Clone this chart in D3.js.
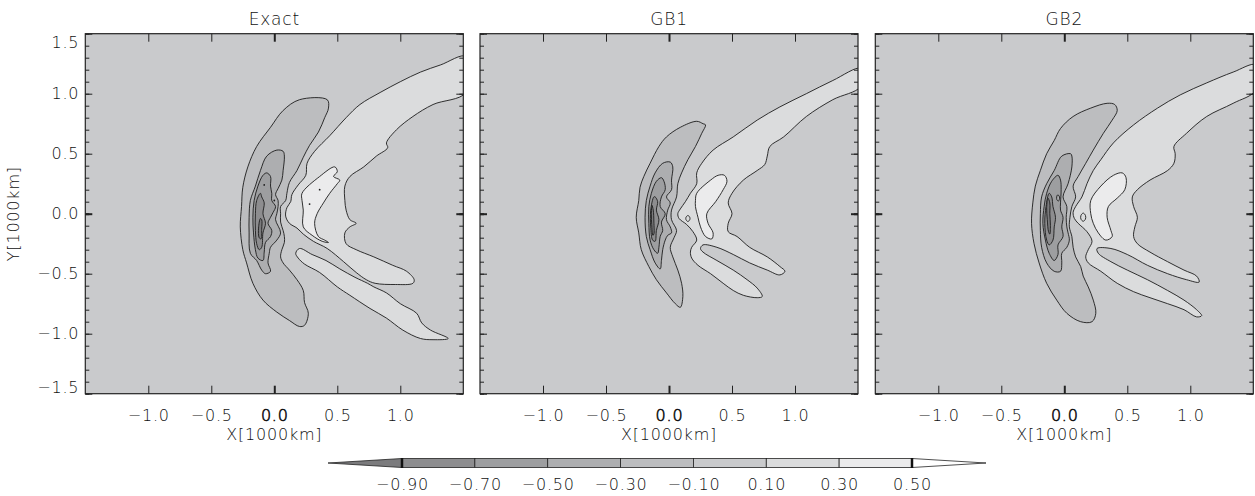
<!DOCTYPE html>
<html>
<head>
<meta charset="utf-8">
<script src="https://cdn.jsdelivr.net/npm/d3@7"></script>
<style>
body { margin: 0; background: #fff; }
text { font-family: "DejaVu Sans", sans-serif; font-weight: 200; fill: #111; letter-spacing: 0.8px; }
</style>
</head>
<body>
<svg id="chart" width="1255" height="496"></svg>
<script>
// contour levels and the tick values
var cbLevels = [-0.9, -0.7, -0.5, -0.3, -0.1, 0.1, 0.3, 0.5];
var xTicks = [-1.0, -0.5, 0.0, 0.5, 1.0];
var yTicks = [-1.5, -1.0, -0.5, 0.0, 0.5, 1.0, 1.5];
var panelTitles = ["Exact", "GB1", "GB2"];

// contour outlines, [x, y] in 1000 km
var exactNeg1 = [[0.42,0.95],[0.20,0.95],[0.07,0.86],[-0.03,0.72],[-0.14,0.56],[-0.21,0.39],[-0.25,0.22],[-0.26,0.06],[-0.27,-0.11],[-0.25,-0.30],[-0.22,-0.41],[-0.17,-0.58],[-0.09,-0.72],[0.02,-0.82],[0.12,-0.89],[0.20,-0.94],[0.24,-0.93],[0.27,-0.83],[0.24,-0.74],[0.23,-0.64],[0.18,-0.55],[0.12,-0.47],[0.07,-0.41],[0.05,-0.36],[0.06,-0.30],[0.08,-0.24],[0.08,-0.19],[0.07,-0.14],[0.05,-0.07],[0.05,0.0],[0.05,0.06],[0.09,0.11],[0.10,0.17],[0.12,0.26],[0.18,0.36],[0.23,0.47],[0.28,0.57],[0.35,0.68],[0.40,0.80],[0.43,0.88]];
var exactNeg3 = [[0.07,0.52],[0.02,0.53],[-0.06,0.48],[-0.11,0.36],[-0.15,0.23],[-0.19,0.11],[-0.20,-0.03],[-0.20,-0.16],[-0.19,-0.33],[-0.14,-0.39],[-0.10,-0.47],[-0.07,-0.50],[-0.03,-0.48],[-0.05,-0.41],[-0.04,-0.33],[-0.03,-0.28],[0.02,-0.22],[0.05,-0.16],[0.01,-0.05],[0.02,0.0],[0.03,0.06],[0.03,0.11],[0.01,0.16],[0.03,0.21],[0.06,0.28],[0.07,0.36],[0.08,0.48]];
var exactNeg5 = [[-0.06,0.34],[-0.09,0.32],[-0.13,0.23],[-0.16,0.11],[-0.17,-0.03],[-0.165,-0.16],[-0.15,-0.30],[-0.13,-0.37],[-0.09,-0.39],[-0.08,-0.32],[-0.07,-0.24],[-0.03,-0.19],[-0.02,-0.14],[-0.05,-0.08],[-0.03,-0.03],[-0.01,0.01],[0.01,0.06],[-0.02,0.11],[-0.02,0.17],[-0.03,0.23],[-0.03,0.31]];
var exactNeg7 = [[-0.11,0.17],[-0.14,0.11],[-0.15,0.0],[-0.15,-0.14],[-0.14,-0.25],[-0.12,-0.30],[-0.10,-0.28],[-0.09,-0.16],[-0.07,-0.08],[-0.09,0.0],[-0.08,0.09],[-0.10,0.14]];
var exactNeg9 = [[-0.11,-0.04],[-0.125,-0.12],[-0.12,-0.20],[-0.105,-0.21],[-0.10,-0.13],[-0.10,-0.05]];
var exactPos1 = [[1.52,1.31],[1.32,1.24],[1.16,1.18],[1.00,1.10],[0.84,1.01],[0.68,0.91],[0.57,0.80],[0.44,0.65],[0.32,0.52],[0.26,0.42],[0.25,0.32],[0.19,0.24],[0.14,0.16],[0.13,0.10],[0.10,0.05],[0.09,-0.02],[0.12,-0.08],[0.18,-0.12],[0.23,-0.17],[0.31,-0.23],[0.42,-0.29],[0.55,-0.40],[0.65,-0.49],[0.73,-0.55],[0.80,-0.58],[0.96,-0.59],[1.10,-0.58],[1.11,-0.55],[1.05,-0.48],[0.94,-0.43],[0.79,-0.36],[0.65,-0.30],[0.57,-0.25],[0.56,-0.16],[0.60,-0.11],[0.65,-0.08],[0.60,-0.05],[0.57,0.03],[0.56,0.11],[0.56,0.23],[0.60,0.31],[0.71,0.39],[0.81,0.48],[0.90,0.55],[0.89,0.59],[0.97,0.70],[1.10,0.81],[1.26,0.91],[1.52,1.01]];
var exactArm = [[0.17,-0.33],[0.20,-0.29],[0.30,-0.34],[0.41,-0.39],[0.52,-0.46],[0.64,-0.53],[0.74,-0.58],[0.79,-0.61],[0.89,-0.66],[1.00,-0.75],[1.13,-0.83],[1.17,-0.91],[1.24,-0.97],[1.38,-1.04],[1.26,-1.05],[1.16,-1.04],[1.02,-0.97],[0.89,-0.87],[0.76,-0.79],[0.60,-0.68],[0.50,-0.61],[0.36,-0.49],[0.24,-0.42],[0.19,-0.37]];
var exactPos3 = [[0.22,0.17],[0.36,0.31],[0.48,0.39],[0.50,0.35],[0.47,0.31],[0.52,0.28],[0.50,0.25],[0.44,0.17],[0.39,0.09],[0.34,0.0],[0.32,-0.08],[0.35,-0.19],[0.40,-0.22],[0.43,-0.24],[0.38,-0.23],[0.30,-0.18],[0.23,-0.11],[0.23,0.03],[0.22,0.11]];
var exactSpots = [[0.36,0.20],[0.28,0.08],[-0.08,0.24],[0.0,0.11]];

var gb1Neg1 = [[0.27,0.75],[0.22,0.77],[0.09,0.72],[-0.02,0.64],[-0.08,0.56],[-0.15,0.42],[-0.20,0.31],[-0.23,0.22],[-0.24,0.11],[-0.26,-0.03],[-0.24,-0.16],[-0.22,-0.30],[-0.16,-0.44],[-0.10,-0.55],[-0.02,-0.66],[0.05,-0.75],[0.09,-0.78],[0.11,-0.69],[0.10,-0.58],[0.07,-0.47],[0.03,-0.36],[0.01,-0.28],[0.04,-0.20],[0.06,-0.14],[0.02,-0.05],[0.02,0.03],[0.06,0.14],[0.07,0.25],[0.10,0.34],[0.15,0.45],[0.21,0.56],[0.26,0.67],[0.29,0.74]];
var gb1Neg3 = [[0.01,0.43],[-0.05,0.42],[-0.11,0.34],[-0.15,0.23],[-0.18,0.11],[-0.19,-0.03],[-0.18,-0.19],[-0.15,-0.30],[-0.11,-0.41],[-0.07,-0.46],[-0.06,-0.39],[-0.05,-0.30],[-0.03,-0.22],[-0.01,-0.18],[0.02,-0.16],[0.01,-0.11],[-0.02,-0.05],[-0.01,0.03],[0.01,0.09],[-0.02,0.14],[0.02,0.20],[0.02,0.28],[0.03,0.39]];
var gb1Neg5 = [[-0.06,0.30],[-0.10,0.27],[-0.14,0.17],[-0.16,0.06],[-0.16,-0.08],[-0.15,-0.22],[-0.12,-0.30],[-0.09,-0.33],[-0.08,-0.28],[-0.07,-0.19],[-0.05,-0.14],[-0.06,-0.07],[-0.03,0.0],[-0.07,0.06],[-0.06,0.14],[-0.03,0.20],[-0.04,0.27]];
var gb1Neg7 = [[-0.12,0.14],[-0.145,0.03],[-0.145,-0.11],[-0.13,-0.22],[-0.11,-0.23],[-0.10,-0.14],[-0.08,-0.05],[-0.10,0.03],[-0.09,0.10],[-0.11,0.14]];
var gb1Neg9 = [[-0.135,0.07],[-0.14,-0.01],[-0.137,-0.09],[-0.128,-0.18],[-0.12,-0.17],[-0.12,-0.07],[-0.125,0.03]];
var gb1Pos1 = [[1.52,1.21],[1.30,1.11],[1.09,1.00],[0.88,0.89],[0.70,0.78],[0.51,0.64],[0.35,0.53],[0.26,0.42],[0.22,0.34],[0.22,0.25],[0.17,0.17],[0.13,0.10],[0.09,0.04],[0.07,0.0],[0.08,-0.04],[0.14,-0.09],[0.19,-0.15],[0.22,-0.22],[0.18,-0.28],[0.17,-0.32],[0.18,-0.37],[0.23,-0.43],[0.33,-0.50],[0.43,-0.58],[0.51,-0.64],[0.59,-0.68],[0.70,-0.70],[0.74,-0.69],[0.70,-0.62],[0.62,-0.55],[0.51,-0.47],[0.38,-0.39],[0.27,-0.32],[0.25,-0.29],[0.27,-0.26],[0.38,-0.28],[0.51,-0.34],[0.64,-0.41],[0.78,-0.47],[0.88,-0.51],[0.92,-0.48],[0.88,-0.44],[0.78,-0.36],[0.64,-0.28],[0.54,-0.19],[0.47,-0.15],[0.47,-0.08],[0.50,0.0],[0.47,0.09],[0.50,0.17],[0.59,0.28],[0.70,0.36],[0.76,0.41],[0.78,0.48],[0.80,0.56],[0.91,0.64],[1.09,0.81],[1.30,0.95],[1.52,1.06]];
var gb1Pos3 = [[0.22,0.17],[0.33,0.28],[0.39,0.32],[0.44,0.32],[0.46,0.27],[0.43,0.20],[0.37,0.10],[0.30,0.0],[0.31,-0.08],[0.35,-0.16],[0.34,-0.21],[0.29,-0.19],[0.25,-0.11],[0.23,-0.03],[0.21,0.06],[0.21,0.11]];
var gb1Loop = [[0.15,-0.015],[0.165,-0.03],[0.165,-0.05],[0.15,-0.065],[0.135,-0.05],[0.135,-0.03]];

var gb2Neg1 = [[0.40,0.91],[0.34,0.92],[0.21,0.88],[0.07,0.81],[-0.03,0.71],[-0.08,0.61],[-0.14,0.50],[-0.19,0.36],[-0.23,0.23],[-0.25,0.09],[-0.26,-0.08],[-0.24,-0.25],[-0.20,-0.41],[-0.14,-0.58],[-0.06,-0.72],[0.02,-0.83],[0.13,-0.90],[0.22,-0.90],[0.25,-0.83],[0.23,-0.72],[0.19,-0.61],[0.15,-0.52],[0.13,-0.44],[0.09,-0.36],[0.07,-0.28],[0.06,-0.19],[0.04,-0.11],[0.045,-0.03],[0.06,0.06],[0.09,0.14],[0.07,0.23],[0.11,0.31],[0.17,0.42],[0.23,0.53],[0.31,0.67],[0.38,0.78],[0.42,0.86]];
var gb2Neg3 = [[0.05,0.50],[-0.02,0.48],[-0.08,0.36],[-0.14,0.25],[-0.18,0.14],[-0.19,0.0],[-0.19,-0.14],[-0.18,-0.28],[-0.14,-0.41],[-0.08,-0.48],[-0.03,-0.48],[-0.02,-0.41],[-0.02,-0.33],[0.02,-0.28],[0.04,-0.22],[0.03,-0.16],[0.02,-0.11],[0.015,-0.03],[0.02,0.06],[-0.01,0.14],[0.03,0.25],[0.06,0.39],[0.06,0.48]];
var gb2Neg5 = [[-0.05,0.32],[-0.10,0.27],[-0.14,0.17],[-0.16,0.06],[-0.17,-0.08],[-0.15,-0.22],[-0.12,-0.33],[-0.08,-0.39],[-0.05,-0.34],[-0.05,-0.26],[-0.01,-0.19],[-0.02,-0.11],[-0.01,-0.03],[-0.03,0.03],[-0.03,0.09],[-0.025,0.20],[-0.03,0.28]];
var gb2Neg7 = [[-0.12,0.17],[-0.145,0.06],[-0.155,-0.08],[-0.14,-0.22],[-0.12,-0.26],[-0.09,-0.22],[-0.08,-0.11],[-0.07,-0.03],[-0.09,0.06],[-0.10,0.14]];
var gb2Neg9 = [[-0.13,0.13],[-0.14,0.05],[-0.135,-0.05],[-0.125,-0.15],[-0.115,-0.17],[-0.11,-0.10],[-0.115,0.0],[-0.115,0.09]];
var gb2Hole = [[-0.055,0.155],[-0.042,0.15],[-0.038,0.125],[-0.047,0.105],[-0.06,0.12]];
var gb2Pos1 = [[1.52,1.24],[1.34,1.18],[1.13,1.09],[0.92,0.99],[0.74,0.88],[0.55,0.74],[0.39,0.59],[0.29,0.45],[0.23,0.36],[0.18,0.25],[0.14,0.14],[0.09,0.06],[0.07,0.01],[0.08,-0.04],[0.11,-0.08],[0.18,-0.15],[0.22,-0.23],[0.19,-0.30],[0.17,-0.36],[0.19,-0.41],[0.29,-0.48],[0.42,-0.58],[0.55,-0.65],[0.68,-0.70],[0.82,-0.75],[0.95,-0.80],[1.05,-0.86],[1.09,-0.85],[1.05,-0.80],[0.95,-0.72],[0.82,-0.64],[0.66,-0.55],[0.50,-0.47],[0.37,-0.40],[0.27,-0.33],[0.26,-0.29],[0.37,-0.29],[0.50,-0.34],[0.66,-0.43],[0.82,-0.50],[0.97,-0.55],[1.07,-0.57],[1.05,-0.52],[0.95,-0.47],[0.82,-0.40],[0.68,-0.32],[0.58,-0.25],[0.55,-0.19],[0.56,-0.11],[0.58,-0.03],[0.55,0.06],[0.54,0.14],[0.58,0.20],[0.68,0.28],[0.82,0.36],[0.87,0.42],[0.88,0.50],[0.87,0.56],[0.97,0.67],[1.13,0.81],[1.34,0.92],[1.52,1.03]];
var gb2Pos3 = [[0.21,0.11],[0.29,0.23],[0.39,0.32],[0.46,0.34],[0.49,0.30],[0.48,0.20],[0.42,0.13],[0.35,0.06],[0.34,-0.03],[0.37,-0.14],[0.38,-0.19],[0.33,-0.22],[0.27,-0.16],[0.23,-0.08],[0.21,0.0]];
var gb2Loop = [[0.15,0.005],[0.168,-0.015],[0.168,-0.045],[0.15,-0.063],[0.132,-0.045],[0.132,-0.015]];

// which colour band (0 = below -0.9 ... 8 = above 0.5) each outline encloses
var panelLayers = [
    [{ bin: 4, pts: exactNeg1 }, { bin: 3, pts: exactNeg3 }, { bin: 2, pts: exactNeg5 }, { bin: 1, pts: exactNeg7 }, { bin: 0, pts: exactNeg9 },
     { bin: 6, pts: exactPos1 }, { bin: 6, pts: exactArm }, { bin: 7, pts: exactPos3 }],
    [{ bin: 4, pts: gb1Neg1 }, { bin: 3, pts: gb1Neg3 }, { bin: 2, pts: gb1Neg5 }, { bin: 1, pts: gb1Neg7 }, { bin: 0, pts: gb1Neg9 },
     { bin: 6, pts: gb1Pos1 }, { bin: 7, pts: gb1Pos3 }, { bin: 6, pts: gb1Loop }],
    [{ bin: 4, pts: gb2Neg1 }, { bin: 3, pts: gb2Neg3 }, { bin: 2, pts: gb2Neg5 }, { bin: 3, pts: gb2Hole }, { bin: 1, pts: gb2Neg7 }, { bin: 0, pts: gb2Neg9 },
     { bin: 6, pts: gb2Pos1 }, { bin: 7, pts: gb2Pos3 }, { bin: 6, pts: gb2Loop }]
];
var panelSpots = [exactSpots, [], []];

var binColors = ["#7b7b7d", "#8d8d8f", "#9d9ea0", "#adaeb0", "#bcbdbf", "#c9cacc", "#dbdcdd", "#ebebec", "#ffffff"];

var svg = d3.select("#chart");
var panelLeft = [85.3, 480, 875.3];
var panelTop = 33.7;
var pw = 378, ph = 360;

var xScale = d3.scaleLinear().domain([-1.5, 1.5]).range([0, pw]);
var yScale = d3.scaleLinear().domain([-1.5, 1.5]).range([ph, 0]);

var contourPath = d3.line()
    .x(function (d) { return xScale(d[0]); })
    .y(function (d) { return yScale(d[1]); })
    .curve(d3.curveCatmullRomClosed.alpha(0.5));

panelLayers.forEach(function (layers, i) {
    let g = svg.append("g").attr("transform", "translate(" + panelLeft[i] + "," + panelTop + ")");

    g.append("clipPath").attr("id", "clip" + i)
        .append("rect").attr("width", pw).attr("height", ph);

    let plot = g.append("g").attr("clip-path", "url(#clip" + i + ")");
    plot.append("rect")
        .attr("width", pw).attr("height", ph)
        .attr("fill", binColors[5]);

    plot.selectAll(".level")
        .data(layers)
        .enter()
        .append("path")
        .attr("class", "level")
        .attr("d", function (d) { return contourPath(d.pts); })
        .attr("fill", function (d) { return binColors[d.bin]; })
        .attr("stroke", "#1c1c1c")
        .attr("stroke-width", 0.9)
        .attr("stroke-linejoin", "round");

    plot.selectAll(".spot")
        .data(panelSpots[i])
        .enter()
        .append("circle")
        .attr("class", "spot")
        .attr("cx", function (d) { return xScale(d[0]); })
        .attr("cy", function (d) { return yScale(d[1]); })
        .attr("r", 0.9)
        .attr("fill", "#1c1c1c");

    // axes: ticks point inward, labels only on the outside
    let fmt = d3.format(".1f");
    let xb = g.append("g").attr("transform", "translate(0," + ph + ")")
        .call(d3.axisBottom(xScale).tickValues(xTicks).tickSize(-8).tickPadding(16).tickFormat(fmt));
    let xt = g.append("g")
        .call(d3.axisTop(xScale).tickValues(xTicks).tickSize(-8).tickFormat(""));
    let yl = g.append("g")
        .call(d3.axisLeft(yScale).tickValues(yTicks).tickSize(-7).tickPadding(6).tickFormat(i === 0 ? fmt : ""));
    let ylm = g.append("g")
        .call(d3.axisLeft(yScale).ticks(30).tickSize(-4).tickFormat(""));
    let yr = g.append("g").attr("transform", "translate(" + pw + ",0)")
        .call(d3.axisRight(yScale).tickValues(yTicks).tickSize(-7).tickFormat(""));
    let yrm = g.append("g").attr("transform", "translate(" + pw + ",0)")
        .call(d3.axisRight(yScale).ticks(30).tickSize(-4).tickFormat(""));

    [xb, xt, yl, ylm, yr, yrm].forEach(function (a) {
        a.select(".domain").remove();
        a.selectAll("line").attr("stroke", "#222").attr("stroke-width", function (d) { return d === 0 ? 2 : 1; });
        a.selectAll("text").style("font-size", "16px").attr("fill", "#111");
    });
    // the zero label is printed a little heavier in the original
    xb.selectAll("text").filter(function (d) { return d === 0; })
        .attr("stroke", "#111").attr("stroke-width", 0.6);
    yl.selectAll("text").attr("dy", function (d) { return d === 1.5 ? "0.85em" : (d === -1.5 ? "-0.05em" : "0.32em"); });

    g.append("rect")
        .attr("width", pw).attr("height", ph)
        .attr("fill", "none")
        .attr("stroke", "#222")
        .attr("stroke-width", 1.2);

    g.append("text")
        .attr("x", pw / 2).attr("y", -9)
        .attr("text-anchor", "middle")
        .style("font-size", "17px")
        .text(panelTitles[i]);

    g.append("text")
        .attr("x", pw / 2).attr("y", ph + 46)
        .attr("text-anchor", "middle")
        .style("font-size", "16px")
        .text("X[1000km]");
});

// text label for the y axis
svg.append("text")
    .attr("transform", "translate(19," + (panelTop + ph / 2) + ") rotate(-90)")
    .attr("text-anchor", "middle")
    .style("font-size", "16px")
    .text("Y[1000km]");

// colour bar with the two end triangles
var cbScale = d3.scaleLinear().domain([-0.9, 0.5]).range([402, 912]);
var cbY = 463, cbH = 9, cbTip = 74;
var cb = svg.append("g");

cb.append("path")
    .attr("d", "M" + (cbScale(-0.9) - cbTip) + "," + cbY + "L" + cbScale(-0.9) + "," + (cbY - cbH / 2) + "L" + cbScale(-0.9) + "," + (cbY + cbH / 2) + "Z")
    .attr("fill", binColors[0]).attr("stroke", "#222").attr("stroke-width", 0.8);
cb.append("path")
    .attr("d", "M" + (cbScale(0.5) + cbTip) + "," + cbY + "L" + cbScale(0.5) + "," + (cbY - cbH / 2) + "L" + cbScale(0.5) + "," + (cbY + cbH / 2) + "Z")
    .attr("fill", binColors[8]).attr("stroke", "#222").attr("stroke-width", 0.8);

cb.selectAll(".bin")
    .data(d3.pairs(cbLevels))
    .enter()
    .append("rect")
    .attr("class", "bin")
    .attr("x", function (d) { return cbScale(d[0]); })
    .attr("y", cbY - cbH / 2)
    .attr("width", function (d) { return cbScale(d[1]) - cbScale(d[0]); })
    .attr("height", cbH)
    .attr("fill", function (d, i) { return binColors[i + 1]; })
    .attr("stroke", "#222")
    .attr("stroke-width", 0.8);

cb.selectAll(".cap")
    .data([cbLevels[0], cbLevels[cbLevels.length - 1]])
    .enter()
    .append("line")
    .attr("x1", function (d) { return cbScale(d); })
    .attr("x2", function (d) { return cbScale(d); })
    .attr("y1", cbY - cbH / 2 - 0.5)
    .attr("y2", cbY + cbH / 2 + 0.5)
    .attr("stroke", "#111")
    .attr("stroke-width", 2.5);

var cbAxis = cb.append("g")
    .attr("transform", "translate(0," + (cbY + cbH / 2) + ")")
    .call(d3.axisBottom(cbScale).tickValues(cbLevels).tickSize(0).tickPadding(11).tickFormat(d3.format(".2f")));
cbAxis.select(".domain").remove();
cbAxis.selectAll("text").style("font-size", "16px").attr("fill", "#111");
</script>
</body>
</html>
